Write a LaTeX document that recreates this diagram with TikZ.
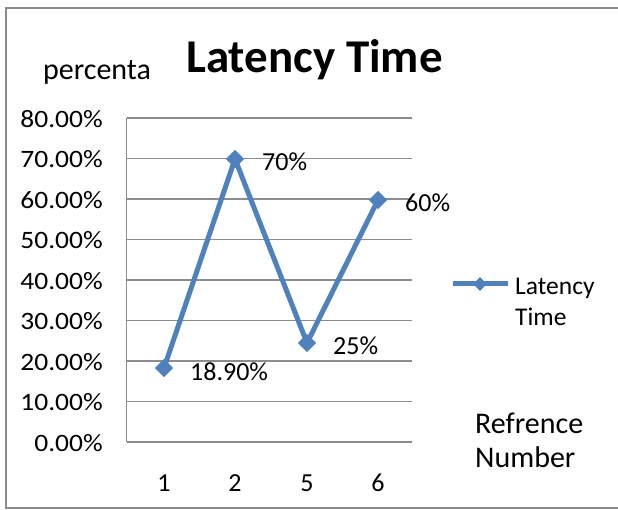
\documentclass[tikz,border=0pt]{standalone}
\usepackage{fontspec}
\setmainfont{Carlito}
\usetikzlibrary{shapes.geometric}
\definecolor{serblue}{HTML}{4F81BD}
\definecolor{gridgray}{HTML}{8C8C8C}
\begin{document}
\begin{tikzpicture}[x=1pt,y=-1pt,
  gridline/.style={draw=gridgray,line width=1.8pt},
  outerframe/.style={draw=gridgray,line width=1.8pt},
  ticklab/.style={anchor=east,inner sep=0pt,xscale=1.1,font=\fontsize{25}{30}\selectfont},
  catlab/.style={anchor=center,inner sep=0pt,font=\fontsize{26}{30}\selectfont},
  datalab/.style={anchor=west,inner sep=0pt,font=\fontsize{26}{30}\selectfont},
  axtitle/.style={inner sep=0pt,font=\fontsize{30}{36}\selectfont},
  mk/.style={diamond,fill=serblue,inner sep=0pt,minimum width=18pt,minimum height=18pt},
  mkl/.style={diamond,fill=serblue,inner sep=0pt,minimum width=14pt,minimum height=14pt},
  series/.style={draw=serblue,line width=5pt,line join=round}]
\useasboundingbox (0,0) rectangle (618,510);
\draw[outerframe] (6,8) rectangle (900,508);
% gridlines
\foreach \v/\lab in {0/0.00\%,10/10.00\%,20/20.00\%,30/30.00\%,40/40.00\%,50/50.00\%,60/60.00\%,70/70.00\%,80/80.00\%}{
  \draw[gridline] (126.5,{442-4.05*\v}) -- (412,{442-4.05*\v});
  \node[ticklab] (t\v) at (103,{443-4.05*\v}) {\lab};
}
\draw[gridline] (126.5,118) -- (126.5,442);
% category labels
\node[catlab] (c1) at (164,483) {1};
\node[catlab] (c2) at (235,483) {2};
\node[catlab] (c5) at (307,483) {5};
\node[catlab] (c6) at (378,483) {6};
% data points
\node[mk] (p1) at (164,368) {};
\node[mk] (p2) at (235,159) {};
\node[mk] (p5) at (307,343) {};
\node[mk] (p6) at (378,200) {};
\draw[series] (p1.center) -- (p2.center) -- (p5.center) -- (p6.center);
\node[mk] at (p1) {};
\node[mk] at (p2) {};
\node[mk] at (p5) {};
\node[mk] at (p6) {};
% data labels
\node[datalab] (l1) at (190,372) {18.90\%};
\node[datalab] (l2) at (262,162) {70\%};
\node[datalab] (l5) at (333,346) {25\%};
\node[datalab] (l6) at (405,203) {60\%};
% title
\node[inner sep=0pt,font=\fontsize{47}{56}\bfseries\selectfont] (title) at (314.5,60) {Latency Time};
\node[axtitle] (ytitle) at (97,72) {percenta};
\node[axtitle,align=left,anchor=west] (xtitle) at (475,440) {Refrence\\[-2pt]Number};
% legend
\coordinate (la) at (453,284);
\coordinate (lb) at (508,284);
\draw[series] (la) -- (lb);
\node[mkl] (lm) at (480,284) {};
\node[anchor=west,inner sep=0pt,align=left,font=\fontsize{25.5}{31}\selectfont] (legtext) at (515,302) {Latency\\Time};
\end{tikzpicture}
\end{document}
